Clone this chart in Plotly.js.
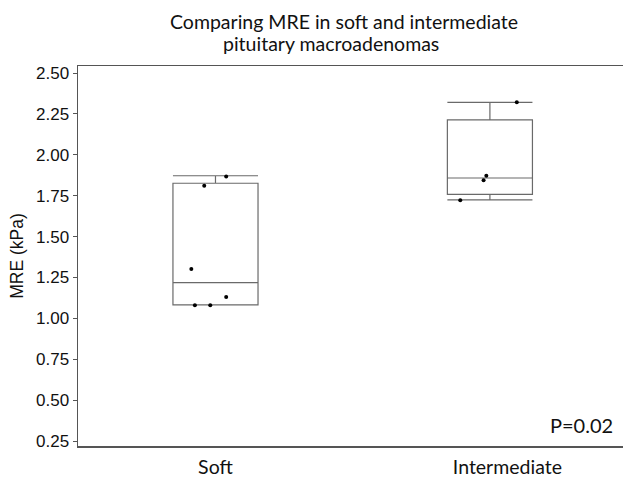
<!DOCTYPE html>
<html>
<head>
<meta charset="utf-8">
<script src="https://cdn.plot.ly/plotly-3.0.1.min.js"></script>
<style>html,body{margin:0;padding:0;background:#fff;}#chart{width:623px;height:480px;}</style>
</head>
<body>
<div id="chart"></div>
<script>
// Categories and box statistics
var categories = ['Soft', 'Intermediate'];
var categoryIndex = [0, 1];
var q1Values = [1.082, 1.758];
var medianValues = [1.218, 1.858];
var q3Values = [1.826, 2.213];
var lowerFence = [1.082, 1.724];
var upperFence = [1.872, 2.321];

// Individual observations
var softValues = [1.867, 1.811, 1.302, 1.131, 1.080, 1.080];
var softJitter = [0.039, -0.041, -0.088, 0.039, -0.075, -0.019];
var interValues = [2.321, 1.872, 1.844, 1.722];
var interJitter = [0.098, -0.013, -0.023, -0.108];

var yTicks = [0.25, 0.50, 0.75, 1.00, 1.25, 1.50, 1.75, 2.00, 2.25, 2.50];
var titleLines = ['Comparing MRE in soft and intermediate', 'pituitary macroadenomas'];
var pText = 'P=0.02';

var pointX = softJitter.map(function (j) { return categoryIndex[0] + j; })
  .concat(interJitter.map(function (j) { return categoryIndex[1] + j; }));
var pointY = softValues.concat(interValues);

var boxTrace = {
  type: 'box',
  x: categoryIndex,
  q1: q1Values,
  median: medianValues,
  q3: q3Values,
  lowerfence: lowerFence,
  upperfence: upperFence,
  boxpoints: false,
  width: 0.31,
  whiskerwidth: 1,
  fillcolor: 'rgba(0,0,0,0)',
  line: {color: '#6a6a6a', width: 1.2},
  hoverinfo: 'skip',
  showlegend: false
};

var pointTrace = {
  type: 'scatter',
  mode: 'markers',
  x: pointX,
  y: pointY,
  marker: {color: '#000', size: 4},
  hoverinfo: 'skip',
  showlegend: false
};

var tickTextNbsp = [categories[0], '\u00a0\u00a0\u00a0\u00a0\u00a0\u00a0\u00a0' + categories[1]];
var titleFont = {family: 'Lato, "Open Sans", sans-serif', size: 19.5, color: '#111'};

var layout = {
  width: 623,
  height: 480,
  margin: {l: 78, r: 0, t: 66, b: 34, pad: 0},
  paper_bgcolor: '#fff',
  plot_bgcolor: '#fff',
  xaxis: {
    range: [-0.501, 1.485],
    tickvals: categoryIndex,
    ticktext: tickTextNbsp,
    showgrid: false,
    zeroline: false,
    showline: true,
    mirror: true,
    linecolor: '#555',
    linewidth: 1.5,
    ticks: '',
    ticklabelstandoff: 3,
    tickfont: {family: 'Lato, "Open Sans", sans-serif', size: 19.5, color: '#111'}
  },
  yaxis: {
    range: [0.2194, 2.543],
    tickvals: yTicks,
    ticktext: yTicks.map(function (v) { return v.toFixed(2); }),
    showgrid: false,
    zeroline: false,
    showline: true,
    linecolor: '#555',
    linewidth: 1.5,
    ticks: 'outside',
    ticklen: 4,
    tickcolor: '#555',
    tickwidth: 1,
    tickfont: {family: '"Liberation Sans", Arial, sans-serif', size: 17, color: '#111'},
    title: {
      text: 'MRE (kPa)',
      font: {family: '"Liberation Sans", Arial, sans-serif', size: 17.5, color: '#111'},
      standoff: 8
    }
  },
  annotations: [{
    text: titleLines[0],
    xref: 'paper', yref: 'paper',
    x: 0.488, y: 1.1158,
    xanchor: 'center', yanchor: 'middle',
    showarrow: false,
    font: titleFont
  }, {
    text: titleLines[1],
    xref: 'paper', yref: 'paper',
    x: 0.464, y: 1.058,
    xanchor: 'center', yanchor: 'middle',
    showarrow: false,
    font: titleFont
  }, {
    text: pText,
    xref: 'paper', yref: 'paper',
    x: 0.985, y: 0.055,
    xanchor: 'right', yanchor: 'middle',
    showarrow: false,
    font: {family: 'Lato, "Open Sans", sans-serif', size: 20, color: '#111'}
  }]
};

Plotly.newPlot('chart', [boxTrace, pointTrace], layout, {staticPlot: true, displayModeBar: false});
</script>
</body>
</html>
